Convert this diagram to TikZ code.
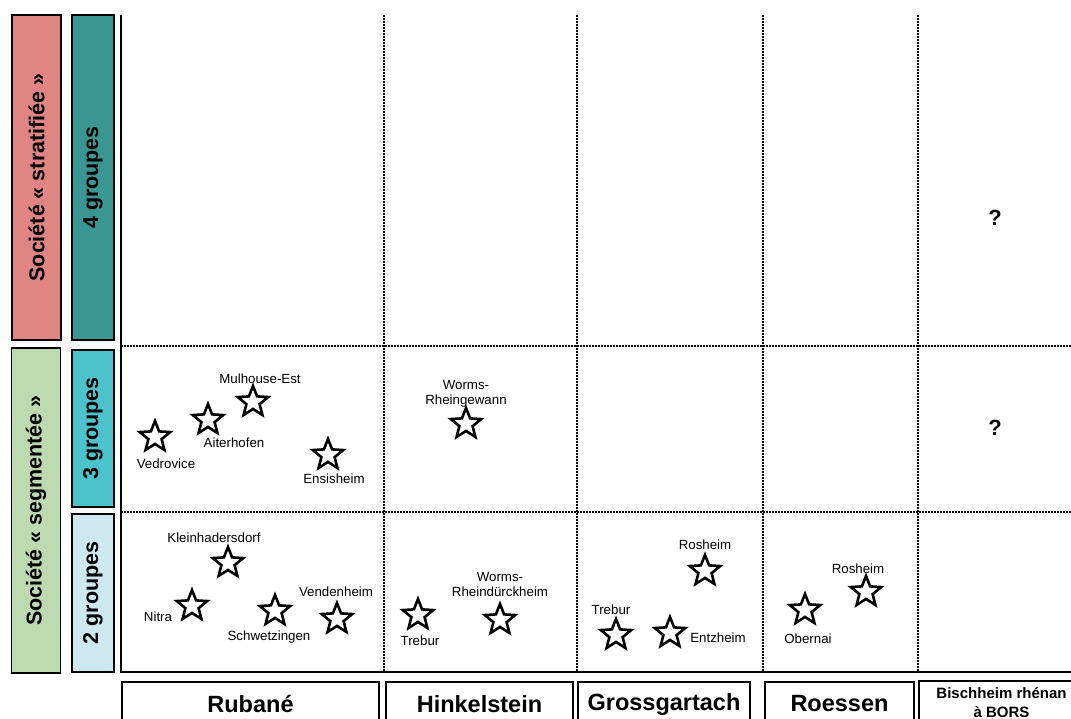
\documentclass[tikz,border=0pt]{standalone}
\usepackage{fontspec}
\setmainfont{Liberation Sans}
\usetikzlibrary{shapes.geometric}
\definecolor{pinkc}{RGB}{224,132,132}
\definecolor{tealc}{RGB}{58,150,146}
\definecolor{cyanc}{RGB}{76,195,204}
\definecolor{lightc}{RGB}{205,232,238}
\definecolor{greenc}{RGB}{188,217,176}
\begin{document}
\begin{tikzpicture}[x=1pt,y=-1pt,
  starn/.style={star, star points=5, star point ratio=2.3, minimum size=32pt, inner sep=0pt, draw, line width=2.6pt, line join=miter},
  lbl/.style={font=\fontsize{13.3}{15}\selectfont, inner sep=0pt, align=center},
  sidebox/.style={draw, line width=1.5pt, inner sep=0pt},
  sidetext/.style={rotate=90, font=\bfseries\fontsize{21.5}{24}\selectfont, inner sep=0pt},
  culture/.style={draw, line width=2pt, inner sep=0pt, minimum height=44pt, font=\bfseries\fontsize{23.5}{26}\selectfont},
  grid/.style={line width=1.5pt, dash pattern=on 1.5pt off 1.5pt},
  frame/.style={line width=2.4pt},
  qmark/.style={font=\bfseries\fontsize{22}{26}\selectfont, inner sep=0pt}]
\useasboundingbox (0,0) rectangle (1071,718);
\fill[white] (0,0) rectangle (1071,718);
% side boxes
\node[sidebox, fill=pinkc, minimum width=49pt, minimum height=325pt] (strat) at (36.5,177.5) {};
\node[sidetext] (stratt) at (strat.center) {Société « stratifiée »};
\node[sidebox, fill=greenc, minimum width=49pt, minimum height=325pt] (segm) at (36,510.5) {};
\node[sidetext] (segmt) at (segm.center) {Société « segmentée »};
\node[sidebox, fill=tealc, minimum width=42pt, minimum height=325pt] (g4) at (93,177.5) {};
\node[sidetext] (g4t) at (g4.center) {4 groupes};
\node[sidebox, fill=cyanc, minimum width=42pt, minimum height=157pt] (g3) at (93,428.5) {};
\node[sidetext] (g3t) at (g3.center) {3 groupes};
\node[sidebox, fill=lightc, minimum width=42pt, minimum height=158pt] (g2) at (93,593) {};
\node[sidetext] (g2t) at (g2.center) {2 groupes};
% grid
\foreach \x in {384,577,763,918} \draw[grid] (\x,15) -- (\x,672);
\foreach \y in {346,512} \draw[grid] (121,\y) -- (1071,\y);
\draw[frame] (121,15) -- (121,672) -- (1075,672);
% culture boxes
\node[culture, minimum width=257pt] (rub) at (250.5,704) {Rubané};
\node[culture, minimum width=187pt] (hink) at (479.5,704) {Hinkelstein};
\node[culture, minimum width=172pt] (gross) at (664,704) {Grossgartach};
\node[culture, minimum width=149pt] (roes) at (839.5,704) {Roessen};
\node[culture, minimum width=165pt, align=center, font=\bfseries\fontsize{15}{19}\selectfont] (bisch) at (1001.5,703) {Bischheim rhénan\\à BORS};
% question marks
\node[qmark] (q1) at (995,218) {?};
\node[qmark] (q2) at (995,428) {?};
% Rubane 3 groupes
\node[starn] (s1) at (155,437) {};
\node[lbl] (l1) at (166,464) {Vedrovice};
\node[starn] (s2) at (208,420) {};
\node[lbl] (l2) at (234,443) {Aiterhofen};
\node[starn] (s3) at (253,402) {};
\node[lbl] (l3) at (260,379) {Mulhouse-Est};
\node[starn] (s4) at (328,455) {};
\node[lbl] (l4) at (334,479) {Ensisheim};
% Rubane 2 groupes
\node[starn] (s5) at (228,563) {};
\node[lbl] (l5) at (214,538) {Kleinhadersdorf};
\node[starn] (s6) at (192,606) {};
\node[lbl] (l6) at (158,617) {Nitra};
\node[starn] (s7) at (275,611) {};
\node[lbl] (l7) at (269,637) {Schwetzingen};
\node[starn] (s8) at (337,619) {};
\node[lbl] (l8) at (336,592) {Vendenheim};
% Hinkelstein
\node[starn] (s9) at (466,424) {};
\node[lbl] (l9) at (466,394) {Worms-\\Rheingewann};
\node[starn] (s10) at (418,615) {};
\node[lbl] (l10) at (420,641) {Trebur};
\node[starn] (s11) at (500,620) {};
\node[lbl] (l11) at (500,584) {Worms-\\Rheindürckheim};
% Grossgartach
\node[starn] (s12) at (705,571) {};
\node[lbl] (l12) at (705,545) {Rosheim};
\node[starn] (s13) at (616,635) {};
\node[lbl] (l13) at (611,610) {Trebur};
\node[starn] (s14) at (670,633) {};
\node[lbl] (l14) at (718,638) {Entzheim};
% Roessen
\node[starn] (s15) at (805,610) {};
\node[lbl] (l15) at (808,639) {Obernai};
\node[starn] (s16) at (866,592) {};
\node[lbl] (l16) at (858,569) {Rosheim};
\end{tikzpicture}
\end{document}
